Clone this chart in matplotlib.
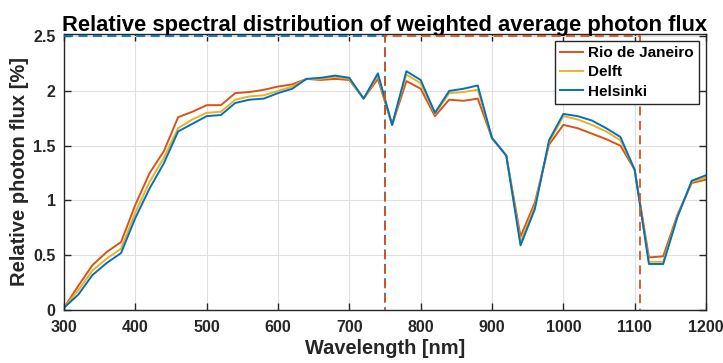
import numpy as np
import matplotlib.pyplot as plt

plt.rcParams['font.family'] = ['Liberation Sans', 'DejaVu Sans']
plt.rcParams['font.weight'] = 'bold'

# Wavelength grid (nm) and relative photon flux (%) per city
wavelength = np.arange(300, 1201, 20)

rio = [0.02, 0.22, 0.41, 0.53, 0.62, 0.96, 1.25, 1.45, 1.76, 1.81,
       1.87, 1.87, 1.98, 1.99, 2.01, 2.04, 2.06, 2.11, 2.10, 2.11,
       2.10, 1.93, 2.11, 1.69, 2.09, 2.02, 1.77, 1.92, 1.91, 1.93,
       1.57, 1.41, 0.67, 0.98, 1.51, 1.69, 1.66, 1.61, 1.56, 1.50,
       1.28, 0.48, 0.49, 0.87, 1.16, 1.19]

delft = [0.02, 0.18, 0.36, 0.47, 0.56, 0.89, 1.17, 1.39, 1.66, 1.74,
         1.80, 1.81, 1.92, 1.95, 1.96, 2.00, 2.04, 2.11, 2.11, 2.13,
         2.11, 1.93, 2.14, 1.69, 2.15, 2.07, 1.79, 1.98, 1.99, 2.01,
         1.57, 1.41, 0.62, 0.95, 1.53, 1.77, 1.74, 1.69, 1.63, 1.55,
         1.28, 0.44, 0.44, 0.86, 1.17, 1.21]

helsinki = [0.02, 0.14, 0.32, 0.43, 0.52, 0.84, 1.11, 1.34, 1.63, 1.70,
            1.77, 1.78, 1.89, 1.92, 1.93, 1.98, 2.02, 2.11, 2.12, 2.14,
            2.12, 1.93, 2.16, 1.69, 2.18, 2.10, 1.80, 2.00, 2.02, 2.05,
            1.57, 1.41, 0.59, 0.92, 1.55, 1.79, 1.77, 1.73, 1.66, 1.58,
            1.28, 0.42, 0.42, 0.85, 1.18, 1.23]

# Wavelength bands highlighted with dashed boxes
band_vis = (300, 750)
band_nir = (750, 1107)
band_top = 2.5

c_rio = '#D95319'
c_delft = '#EDB120'
c_hel = '#0072BD'

fig = plt.figure(figsize=(7.23, 3.63), dpi=100)
ax = fig.add_axes([0.0885, 0.146, 0.8880, 0.761])

ax.plot(wavelength, rio, color=c_rio, lw=1.4, label='Rio de Janeiro')
ax.plot(wavelength, delft, color=c_delft, lw=1.4, label='Delft')
ax.plot(wavelength, helsinki, color=c_hel, lw=1.4, label='Helsinki')

# dashed band outlines (bottom and left edges sit on the axes)
dash = (0, (5, 3))
ax.plot([band_vis[0], band_vis[1], band_vis[1]], [band_top, band_top, 0],
        color=c_hel, ls=dash, lw=1.3, clip_on=False, zorder=4)
ax.plot([band_nir[0], band_nir[0], band_nir[1], band_nir[1]], [0, band_top, band_top, 0],
        color=c_rio, ls=(4, (5, 3)), lw=1.3, clip_on=False, zorder=4)

ax.set_xlim(300, 1200)
ax.set_ylim(0, 2.522)
ax.set_xticks(np.arange(300, 1201, 100))
ax.set_yticks([0, 0.5, 1, 1.5, 2, 2.5])
ax.set_yticklabels(['0', '0.5', '1', '1.5', '2', '2.5'])
ax.grid(True, color='#e0e0e0', lw=0.8)
ax.set_axisbelow(True)
ax.tick_params(direction='in', top=True, right=True, length=5, width=1,
               labelsize=11.5, color='#262626', labelcolor='#262626')
ax.tick_params(axis='x', pad=7)
ax.tick_params(axis='y', pad=6)
for s in ax.spines.values():
    s.set_color('#262626')
    s.set_linewidth(1.0)

ax.set_xlabel('Wavelength [nm]', fontsize=14.4, fontweight='bold', color='#262626', labelpad=3)
ax.set_ylabel('Relative photon flux [%]', fontsize=14.5, fontweight='bold', color='#262626', labelpad=3)
ax.set_title('Relative spectral distribution of weighted average photon flux',
             fontsize=15.8, fontweight='bold', pad=2)

leg = ax.legend(loc='upper right', fontsize=11, handlelength=1.5, handletextpad=0.3,
                borderpad=0.35, labelspacing=0.35, fancybox=False, framealpha=1,
                borderaxespad=0, bbox_to_anchor=(0.989, 0.975))
leg.get_frame().set_edgecolor('#262626')
leg.get_frame().set_linewidth(1.0)

fig.savefig('out.png', dpi=100)
